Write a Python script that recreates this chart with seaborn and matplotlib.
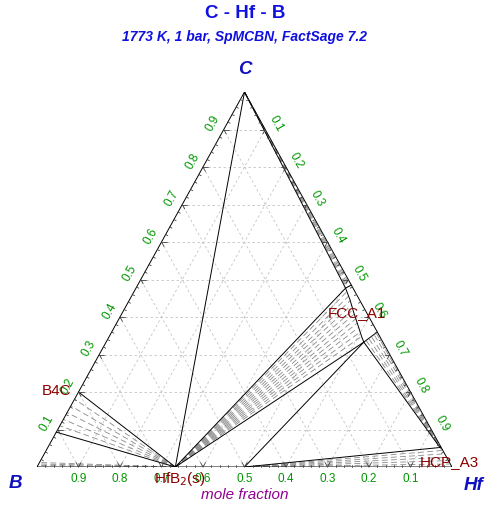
import numpy as np
import pandas as pd
import seaborn as sns
import matplotlib.pyplot as plt

sns.set_theme(style="white")
plt.rcParams['font.family'] = ['Liberation Sans', 'DejaVu Sans']

# phase points, as mole fractions (xB, xC, xHf)
pt_C = (0.0, 1.0, 0.0)
pt_HfB2 = (2 / 3, 0.0, 1 / 3)
pt_HfB = (0.5, 0.0, 0.5)
pt_B4C_hi = (0.8, 0.2, 0.0)
pt_B4C_lo = (0.907, 0.093, 0.0)
pt_fcc_hi_edge = (0.0, 0.485, 0.515)
pt_fcc_lo_edge = (0.0, 0.36, 0.64)
pt_hcp = (0.003, 0.052, 0.945)

# FCC_A1 boundary on the B side (C-rich end -> C-poor end)
fcc_xB = [0.018, 0.023, 0.031, 0.038, 0.044, 0.046]
fcc_xC = [0.477, 0.445, 0.411, 0.376, 0.347, 0.333]

# tie lines
b4c_tie_xC = [0.181, 0.163, 0.145, 0.127, 0.110]
beta_tie_xC = [0.004, 0.008, 0.012]
fcc_tie_xB = [0.019, 0.021, 0.023, 0.026, 0.028, 0.031, 0.033, 0.036, 0.039, 0.041, 0.044]
fcc_tie_xC = [0.468, 0.456, 0.444, 0.432, 0.420, 0.408, 0.396, 0.384, 0.372, 0.360, 0.348]
gr_tie_xB = [0.004, 0.008, 0.012, 0.015]
gr_tie_xC = [0.483, 0.481, 0.480, 0.479]
hcp_fcc_xB = [0.038, 0.029, 0.020, 0.011, 0.004]
hcp_fcc_xC = [0.337, 0.341, 0.346, 0.351, 0.356]
hcp_end_xC = [0.050, 0.049, 0.048, 0.047, 0.046]
hfb_tie_xC = [0.044, 0.035, 0.026, 0.017, 0.008]

ticks = [0.1, 0.2, 0.3, 0.4, 0.5, 0.6, 0.7, 0.8, 0.9]
tick_labels = ["0.1", "0.2", "0.3", "0.4", "0.5", "0.6", "0.7", "0.8", "0.9"]

SX, SY = 415.0, 375.0  # pixels per unit in x and y


def tern(p):
    b, c, h = p
    s = b + c + h
    return h / s + 0.5 * c / s, c / s


def frame(pairs):
    rows = []
    for i, pts in enumerate(pairs):
        for p in pts:
            x, y = tern(p)
            rows.append({"seg": i, "x": x, "y": y})
    return pd.DataFrame(rows)


def px(dx, dy):
    # pixel offset (y up) -> data offset
    return dx / SX, dy / SY


fig = plt.figure(figsize=(4.95, 5.08), dpi=100)
ax = fig.add_axes([37 / 495, 41 / 508, 415 / 495, 375 / 508])
ax.set_xlim(0, 1)
ax.set_ylim(0, 1)
ax.axis("off")

# grid
grid = []
for v in ticks:
    grid.append([(1 - v, v, 0), (0, v, 1 - v)])
    grid.append([(v, 0, 1 - v), (v, 1 - v, 0)])
    grid.append([(1 - v, 0, v), (0, 1 - v, v)])
sns.lineplot(data=frame(grid), x="x", y="y", units="seg", estimator=None, sort=False,
             color="#c4c4c4", lw=0.6, linestyle=(0, (3, 3)), ax=ax, legend=False)

# tie lines
ties = []
for c in b4c_tie_xC:
    ties.append([pt_HfB2, (1 - c, c, 0)])
for c in beta_tie_xC:
    ties.append([pt_HfB2, (1 - c, c, 0)])
for b, c in zip(fcc_tie_xB, fcc_tie_xC):
    ties.append([pt_HfB2, (b, c, 1 - b - c)])
for b, c in zip(gr_tie_xB, gr_tie_xC):
    ties.append([pt_C, (b, c, 1 - b - c)])
for b, c, e in zip(hcp_fcc_xB, hcp_fcc_xC, hcp_end_xC):
    ties.append([(b, c, 1 - b - c), (0.002, e, 0.998 - e)])
for c in hfb_tie_xC:
    ties.append([pt_HfB, (0.002, c, 0.998 - c)])
sns.lineplot(data=frame(ties), x="x", y="y", units="seg", estimator=None, sort=False,
             color="#8a8a8a", lw=0.6, linestyle=(0, (7, 4)), ax=ax, legend=False)

# phase boundaries
fcc_pts = [(b, c, 1 - b - c) for b, c in zip(fcc_xB, fcc_xC)]
bounds = [
    [pt_C, pt_HfB2],
    [pt_C, fcc_pts[0]],
    [pt_HfB2, fcc_pts[0]],
    [pt_HfB2, fcc_pts[-1]],
    [pt_HfB, fcc_pts[-1]],
    fcc_pts,
    [fcc_pts[0], pt_fcc_hi_edge],
    [fcc_pts[-1], pt_fcc_lo_edge],
    [fcc_pts[-1], pt_hcp],
    [pt_HfB, pt_hcp],
    [pt_hcp, (0.0, 0.055, 0.945)],
    [pt_B4C_hi, pt_HfB2],
    [pt_B4C_lo, pt_HfB2],
    [(1, 0, 0), (0, 1, 0), (0, 0, 1), (1, 0, 0)],
]
sns.lineplot(data=frame(bounds), x="x", y="y", units="seg", estimator=None, sort=False,
             color="black", lw=0.7, ax=ax, legend=False)

# tick marks
dl = np.array([0.484, 0.875])
dr = np.array([0.484, -0.875])
tk = []
for i in range(1, 50):
    v = i * 0.02
    major = i % 5 == 0
    L = 5.0 if major else 2.5
    pL = np.array(tern((1 - v, v, 0)))
    pB = np.array(tern((v, 0, 1 - v)))
    pR = np.array(tern((0, 1 - v, v)))
    if major:
        dirs = [((1, 0), dr), ((-dl[0], dl[1]), dl), ((-1, 0), -dl)]
    else:
        dirs = [((0.875, -0.484),), ((0, 1),), ((-0.875, -0.484),)]
    for p, ds in zip([pL, pB, pR], dirs):
        for d in ds:
            q = p + np.array(px(d[0] * L, d[1] * L))
            tk.append((p, q))
for p, q in tk:
    ax.plot([p[0], q[0]], [p[1], q[1]], color="#404040", lw=0.6, clip_on=False)

green = "#009600"
for v, lab in zip(ticks, tick_labels):
    x, y = tern((1 - v, v, 0))
    ox, oy = px(-0.875 * 12, 0.484 * 12)
    ax.text(x + ox, y + oy, lab, color=green, fontsize=8.5, rotation=61,
            ha="center", va="center", rotation_mode="anchor")
    x, y = tern((v, 0, 1 - v))
    ax.text(x, y + px(0, -12)[1], lab, color=green, fontsize=8.5,
            ha="center", va="center")
    x, y = tern((0, 1 - v, v))
    ox, oy = px(0.875 * 12, 0.484 * 12)
    ax.text(x + ox, y + oy, lab, color=green, fontsize=8.5, rotation=-61,
            ha="center", va="center", rotation_mode="anchor")

# phase labels
red = "#8c0000"
ax.text(px(57 - 37, 0)[0], px(0, 467 - 391)[1], "B4C", color=red, fontsize=11,
        ha="center", va="center")
ax.text(px(180 - 37, 0)[0], px(0, 467 - 479)[1], "HfB$_2$(s)", color=red, fontsize=11,
        ha="center", va="center")
ax.text(px(357 - 37, 0)[0], px(0, 467 - 313)[1], "FCC_A1", color=red, fontsize=11,
        ha="center", va="center")
ax.text(px(449 - 37, 0)[0], px(0, 467 - 462)[1], "HCP_A3", color=red, fontsize=11,
        ha="center", va="center", clip_on=False)

# titles and corner labels
blue = "#1010e0"
fig.text(245 / 495, 1 - 14 / 508, "C - Hf - B", color=blue, fontsize=13.5,
         fontweight="bold", ha="center", va="center")
fig.text(245 / 495, 1 - 37 / 508, "1773 K, 1 bar, SpMCBN, FactSage 7.2", color=blue,
         fontsize=10, fontweight="bold", style="italic", ha="center", va="center")
fig.text(245 / 495, 1 - 70 / 508, "C", color="#1010c0", fontsize=13.5,
         fontweight="bold", style="italic", ha="center", va="center")
fig.text(15 / 495, 1 - 484 / 508, "B", color="#1010c0", fontsize=13.5,
         fontweight="bold", style="italic", ha="center", va="center")
fig.text(474 / 495, 1 - 485 / 508, "Hf", color="#1010c0", fontsize=13.5,
         fontweight="bold", style="italic", ha="center", va="center")
fig.text(245 / 495, 1 - 495 / 508, "mole fraction", color="#900090", fontsize=11,
         style="italic", ha="center", va="center")

fig.savefig("out.png", dpi=100)
